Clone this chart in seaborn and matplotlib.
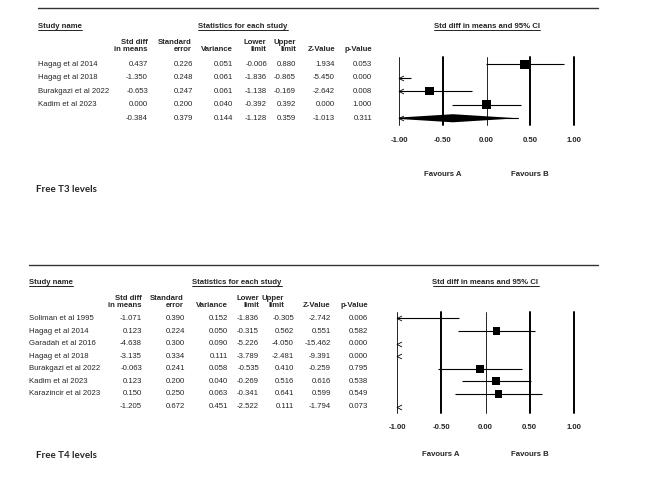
import numpy as np
import pandas as pd
import seaborn as sns
import matplotlib.pyplot as plt
import matplotlib.transforms as mtransforms
from matplotlib.lines import Line2D
from matplotlib.patches import Polygon
from matplotlib.path import Path

sns.set_style("white")
plt.rcParams['font.family'] = ['Liberation Sans', 'DejaVu Sans']

# ---- data: Free T3 levels ----
t3_names = ["Hagag et al 2014", "Hagag et al 2018", "Burakgazi et al 2022", "Kadim et al 2023", ""]
t3_est = [0.437, -1.350, -0.653, 0.000, -0.384]
t3_se = [0.226, 0.248, 0.247, 0.200, 0.379]
t3_var = [0.051, 0.061, 0.061, 0.040, 0.144]
t3_lo = [-0.006, -1.836, -1.138, -0.392, -1.128]
t3_hi = [0.880, -0.865, -0.169, 0.392, 0.359]
t3_z = [1.934, -5.450, -2.642, 0.000, -1.013]
t3_p = [0.053, 0.000, 0.008, 1.000, 0.311]

# ---- data: Free T4 levels ----
t4_names = ["Soliman et al 1995", "Hagag et al 2014", "Garadah et al 2016", "Hagag et al 2018",
            "Burakgazi et al 2022", "Kadim et al 2023", "Karazincir et al 2023", ""]
t4_est = [-1.071, 0.123, -4.638, -3.135, -0.063, 0.123, 0.150, -1.205]
t4_se = [0.390, 0.224, 0.300, 0.334, 0.241, 0.200, 0.250, 0.672]
t4_var = [0.152, 0.050, 0.090, 0.111, 0.058, 0.040, 0.063, 0.451]
t4_lo = [-1.836, -0.315, -5.226, -3.789, -0.535, -0.269, -0.341, -2.522]
t4_hi = [-0.305, 0.562, -4.050, -2.481, 0.410, 0.516, 0.641, 0.111]
t4_z = [-2.742, 0.551, -15.462, -9.391, -0.259, 0.616, 0.599, -1.794]
t4_p = [0.006, 0.582, 0.000, 0.000, 0.795, 0.538, 0.549, 0.073]

ticks = [-1.0, -0.5, 0.0, 0.5, 1.0]
headers = ["Std diff\nin means", "Standard\nerror", "Variance", "Lower\nlimit", "Upper\nlimit", "Z-Value", "p-Value"]

W, H = 669, 491
fig = plt.figure(figsize=(W / 100, H / 100), dpi=100)
FS = 5.6

def fx(px):
    return px / W

def fy(py):
    return 1 - py / H

chevron = Path([(1, 1), (-1, 0), (1, -1)], [Path.MOVETO, Path.LINETO, Path.LINETO])
underlined = []

def panel(names, est, se, var, lo, hi, z, p, lay):
    n = len(names)
    ax = fig.add_axes([fx(lay["x_m1"]), fy(lay["ax_bot"]),
                       fx(lay["x_p1"]) - fx(lay["x_m1"]), (lay["ax_bot"] - lay["ax_top"]) / H])
    rows = np.arange(n)
    df = pd.DataFrame({"est": est, "row": rows, "w": 1 / np.array(var)})
    study = df.iloc[:-1]
    shown = study[(study.est >= -1) & (study.est <= 1)]
    sns.scatterplot(data=shown, x="est", y="row", size="w", sizes=lay["sq"], size_norm=(10, 25),
                    marker="s", color="black", linewidth=0, legend=False, ax=ax, zorder=4)

    for i in range(n - 1):
        l, h = max(lo[i], -1), min(hi[i], 1)
        if h > -1:
            ax.plot([l, h], [i, i], color="black", lw=0.8, solid_capstyle="butt")
        if lo[i] < -1:
            ax.plot(-0.975, i, marker=chevron, ms=3.5, mfc="none", mec="black", mew=0.6,
                    clip_on=False)
    # summary row
    s = n - 1
    if -1 <= est[s] <= 1:
        ax.plot([max(lo[s], -1), hi[s]], [s, s], color="black", lw=0.8)
        ax.add_patch(Polygon([(lo[s], s), (est[s], s - 0.3), (hi[s], s), (est[s], s + 0.3)],
                             closed=True, color="black", lw=0))
    if lo[s] < -1:
        ax.plot(-0.975, s, marker=chevron, ms=3.5, mfc="none", mec="black", mew=0.6, clip_on=False)

    for v in ticks:
        ax.axvline(v, color="black", lw=0.6 if v in (-1.0, 0.0) else 1.4, clip_on=False, zorder=1)
    ax.set_xlim(-1, 1)
    ax.set_ylim(n - 0.5, -0.5)
    ax.set_yticks([])
    ax.set_xticks(ticks)
    ax.set_xticklabels([f"{v:.2f}" for v in ticks], fontsize=FS, fontweight="bold")
    ax.tick_params(axis="x", length=0, pad=lay["tick_pad"])
    ax.set_xlabel("")
    ax.set_ylabel("")
    sns.despine(ax=ax, left=True, bottom=True)

    tr = mtransforms.blended_transform_factory(fig.transFigure, ax.transData)
    cols = [est, se, var, lo, hi, z, p]
    for i in range(n):
        fig.text(fx(lay["name_x"]), i, names[i], transform=tr, ha="left", va="center", fontsize=FS)
        for c, vals in enumerate(cols):
            fig.text(fx(lay["col_x"][c]), i, f"{vals[i]:.3f}", transform=tr,
                     ha="right", va="center", fontsize=FS)
    for c, hd in enumerate(headers):
        fig.text(fx(lay["head_x"][c]), fy(lay["head_y"]), hd, ha="right", va="bottom",
                 fontsize=FS, fontweight="bold", linespacing=0.95)

    # titles
    fig.add_artist(Line2D([fx(lay["name_x"]), fx(598)], [fy(lay["rule_y"])] * 2,
                          color="#333333", lw=1.0))
    trx = mtransforms.blended_transform_factory(ax.transData, fig.transFigure)
    underlined.append(fig.text(fx(lay["name_x"]), fy(lay["title_y"]), "Study name",
                               ha="left", va="center", fontsize=FS, fontweight="bold"))
    underlined.append(fig.text(fx(lay["stats_x"]), fy(lay["title_y"]), "Statistics for each study",
                               ha="center", va="center", fontsize=FS, fontweight="bold"))
    underlined.append(fig.text(0.0, fy(lay["title_y"]), "Std diff in means and 95% CI",
                               transform=trx, ha="center", va="center", fontsize=FS, fontweight="bold"))
    fig.text(-0.5, fy(lay["fav_y"]), "Favours A", transform=trx, ha="center", va="center",
             fontsize=FS, fontweight="bold")
    fig.text(0.5, fy(lay["fav_y"]), "Favours B", transform=trx, ha="center", va="center",
             fontsize=FS, fontweight="bold")
    fig.text(fx(36), fy(lay["label_y"]), lay["label"], ha="left", va="center",
             fontsize=7, fontweight="bold", family=["Lato", "DejaVu Sans"])

panel(t3_names, t3_est, t3_se, t3_var, t3_lo, t3_hi, t3_z, t3_p, dict(
    x_m1=399, x_p1=574, ax_top=57.5, ax_bot=125, tick_pad=9, sq=(34, 40),
    name_x=38, col_x=[148, 193, 233, 267, 296, 335, 372], head_x=[148, 192, 233, 266, 296, 335, 372],
    head_y=53, rule_y=8, title_y=26, stats_x=243, fav_y=175, label_y=189, label="Free T3 levels"))

panel(t4_names, t4_est, t4_se, t4_var, t4_lo, t4_hi, t4_z, t4_p, dict(
    x_m1=397, x_p1=574, ax_top=312.2, ax_bot=412.8, tick_pad=8, sq=(26, 32),
    name_x=29, col_x=[142, 185, 228, 259, 294, 331, 368], head_x=[142, 184, 228, 259, 284, 330, 368],
    head_y=309, rule_y=265, title_y=282, stats_x=237, fav_y=455, label_y=456, label="Free T4 levels"))

fig.canvas.draw()
r = fig.canvas.get_renderer()
inv = fig.transFigure.inverted()
for t in underlined:
    bb = t.get_window_extent(r)
    (x0, y0), (x1, _) = inv.transform([(bb.x0, bb.y0 - 0.2), (bb.x1, bb.y0)])
    fig.add_artist(Line2D([x0, x1], [y0, y0], color="black", lw=0.6))

fig.savefig("out.png", dpi=100, facecolor="white")
